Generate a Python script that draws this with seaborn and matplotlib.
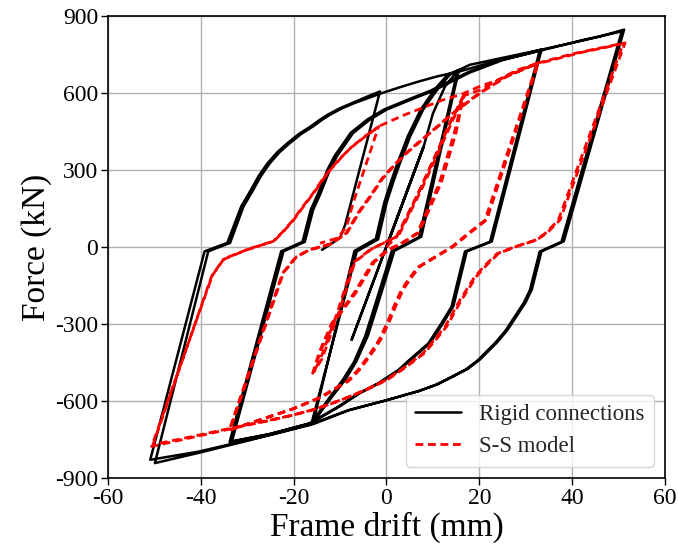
import numpy as np
import pandas as pd
import matplotlib
matplotlib.use("Agg")
import matplotlib.pyplot as plt
import seaborn as sns

# ---------------- Rigid connections: load path, branch by branch ----------------
RC_ELASTIC_D = [0.0, 8.0, -7.5, 8.0, -7.5]
RC_ELASTIC_F = [0, 391, -361, 391, -361]
RC_LOAD16_D = [8.0, 10.0, 12.6, 15.3]
RC_LOAD16_F = [391, 520, 625, 686]
RC_DN16A_D = [7.0, 1.1, -1.9, -4.6, -7.0, -9.4, -12.0, -14.4, -16.2]
RC_DN16A_F = [38, -17, -193, -348, -448, -517, -580, -640, -690]
RC_UP16A_D = [-6.4, -1.8, 0.0, 1.5, 2.9, 5.1, 7.9, 10.0, 11.5, 13.7, 15.6]
RC_UP16A_F = [-17, 30, 171, 255, 327, 431, 535, 590, 626, 672, 690]
RC_DN16B_D = [7.5, 1.7, -1.3, -4.0, -6.5, -8.8, -11.5, -14.0, -15.8]
RC_DN16B_F = [40, -15, -190, -345, -446, -515, -578, -638, -686]
RC_UP16B_D = [-6.9, -2.3, -0.5, 1.0, 2.4, 4.6, 7.4, 9.5, 11.0, 13.3, 15.4]
RC_UP16B_F = [-15, 32, 172, 256, 328, 432, 536, 591, 627, 673, 688]
RC_ENV34_D = [18.0, 25.8, 33.4]
RC_ENV34_F = [710, 740, 769]
RC_DN34A_D = [22.7, 17.3, 14.4, 12.2, 9.4, 5.5, 2.9, -1.5, -5.7, -10.0, -16.3, -25.0, -33.3]
RC_DN34A_F = [22, -17, -231, -296, -374, -435, -478, -530, -569, -620, -686, -728, -757]
RC_UP34A_D = [-22.2, -17.6, -15.8, -14.3, -12.2, -10.7, -7.2, -3.6, 0.0, 5.8, 10.0, 13.0, 18.0, 25.0, 33.0]
RC_UP34A_F = [-17, 20, 145, 205, 301, 353, 444, 496, 535, 578, 608, 635, 680, 728, 765]
RC_DN34B_D = [22.3, 16.9, 14.0, 11.8, 9.0, 5.1, 2.5, -1.9, -6.1, -10.4, -16.7, -25.4, -33.8]
RC_DN34B_F = [20, -18, -233, -298, -376, -437, -480, -532, -571, -622, -688, -730, -760]
RC_UP34B_D = [-22.7, -18.1, -16.3, -14.8, -12.7, -11.2, -7.7, -4.1, -0.5, 5.3, 9.5, 12.5, 17.6, 24.8, 33.4]
RC_UP34B_F = [-17, 20, 146, 206, 302, 354, 445, 497, 536, 579, 609, 636, 681, 729, 769]
RC_ENV51_D = [40.0, 46.0, 51.2]
RC_ENV51_F = [795, 820, 847]
RC_DN51A_D = [38.2, 33.4, 31.3, 30.0, 28.0, 26.0, 23.7, 20.1, 17.5, 14.4, 11.0, 7.2, 0.0,
              -8.0, -15.8, -24.0, -31.8, -40.0, -49.9]
RC_DN51A_F = [22, -17, -166, -215, -270, -325, -374, -439, -475, -504, -535, -560, -597,
              -635, -690, -728, -763, -800, -842]
RC_UP51A_D = [-38.4, -33.7, -30.8, -28.7, -27.0, -25.1, -23.0, -20.8, -18.4, -15.8, -14.0, -12.2,
              -9.6, -7.0, -4.0, -1.1, 3.0, 7.0, 11.0, 15.6, 20.0, 25.0, 33.4, 42.0, 50.7]
RC_UP51A_F = [-17, 16, 158, 223, 278, 327, 370, 405, 440, 470, 494, 515,
              540, 560, 580, 599, 623, 645, 665, 683, 706, 730, 766, 805, 840]
RC_DN51B_D = [37.7, 33.0, 30.9, 29.6, 27.6, 25.6, 23.3, 19.7, 17.1, 14.0, 10.6, 6.8, -0.4,
              -8.4, -16.2, -24.4, -32.2, -40.4, -50.9]
RC_DN51B_F = [20, -18, -168, -217, -272, -327, -376, -441, -477, -506, -537, -562, -599,
              -637, -690, -728, -762, -797, -829]
RC_UP51B_D = [-39.2, -34.3, -31.3, -29.2, -27.5, -25.6, -23.5, -21.3, -18.9, -16.3, -14.5,
              -12.7, -10.1, -7.5, -4.4, -1.4]
RC_UP51B_F = [-17, 16, 158, 223, 278, 327, 370, 405, 440, 470, 494,
              515, 540, 560, 584, 606]
RC_END_D = [-8.9, -10.0, -13.9]
RC_END_F = [87, 35, -11]

# ---------------- S-S model: load path, branch by branch ----------------
SS_UP16A_D = [0.0, 2.2, 4.5, 7.2, 10.8, 13.7, 16.5]
SS_UP16A_F = [0, 41, 120, 223, 366, 484, 585]
SS_DN16A_D = [14.6, 11.4, 8.2, 6.6, 3.0, 0.2, -3.0, -7.0, -11.8, -14.5, -15.9]
SS_DN16A_F = [444, 249, 119, 54, 12, -11, -60, -180, -297, -410, -492]
SS_UP16B_D = [-14.3, -10.5, -7.2, -3.6, 2.2, 7.2, 10.8, 13.7, 16.6]
SS_UP16B_F = [-440, -250, -62, -11, 41, 223, 366, 484, 588]
SS_DN16B_D = [15.0, 11.8, 8.6, 6.9, 3.3, 0.5, -2.6, -6.6, -11.4, -14.2, -15.6]
SS_DN16B_F = [446, 251, 121, 55, 13, -10, -58, -178, -295, -405, -485]
SS_UP16C_D = [-13.9, -10.1, -6.8, -3.2, 2.6, 7.6, 11.2, 14.1, 16.8]
SS_UP16C_F = [-436, -246, -58, -8, 44, 226, 369, 487, 590]
SS_ENV33_D = [20.2, 24.2, 28.0, 32.7]
SS_ENV33_F = [612, 652, 688, 717]
SS_DN33A_D = [21.6, 18.0, 14.4, 11.0, 7.2, 5.3, 3.6, 2.1, 0.8, -1.2, -3.6, -5.8, -8.0,
              -14.0, -20.0, -27.0, -33.7]
SS_DN33A_F = [106, 55, 2, -35, -76, -120, -166, -225, -283, -360, -426, -478, -520,
              -585, -630, -672, -712]
SS_UP33A_D = [-22.2, -19.3, -16.5, -12.0, -8.5, -5.7, -3.3, -0.9, 1.8, 4.6, 9.8, 15.0, 20.2, 26.0, 32.5]
SS_UP33A_F = [-100, -37, -11, 12, 55, 140, 200, 265, 320, 370, 450, 530, 600, 665, 715]
SS_DN33B_D = [21.2, 17.6, 14.0, 10.6, 6.8, 4.9, 3.2, 1.7, 0.4, -1.6, -4.0, -6.2, -8.4,
              -14.4, -20.4, -27.4, -33.9]
SS_DN33B_F = [104, 53, 0, -37, -78, -122, -168, -227, -285, -362, -428, -480, -522,
              -587, -632, -674, -714]
SS_UP33B_D = [-22.4, -19.5, -16.7, -12.2, -8.7, -5.9, -3.5, -1.1, 1.6, 4.4, 9.6, 14.8, 20.0, 25.8, 32.7]
SS_UP33B_F = [-102, -39, -12, 11, 54, 139, 199, 264, 319, 369, 449, 529, 599, 664, 717]
SS_ENV51_D = [40.0, 46.0, 51.4]
SS_ENV51_F = [752, 775, 795]
SS_DN51A_D = [37.4, 34.6, 32.4, 28.0, 24.2, 21.6, 19.4, 17.8, 16.2, 14.6, 13.0, 10.6, 8.2, 4.2,
              0.2, -3.8, -7.8, -11.8, -15.8, -20.0, -24.0, -28.0, -31.8, -41.0, -50.3]
SS_DN51A_F = [106, 55, 28, 2, -24, -70, -114, -160, -205, -257, -309, -362, -413, -468,
              -517, -552, -582, -610, -634, -654, -670, -685, -699, -735, -770]
SS_UP51A_D = [-37.7, -35.2, -30.1, -24.4, -22.2, -20.1, -18.0, -15.8, -14.0, -12.2, -10.0,
              -7.8, -4.6, -1.4, 3.5, 8.2, 12.0, 16.2, 20.0, 24.2, 28.0, 32.2, 42.0, 51.0]
SS_UP51A_F = [-115, -49, -11, 22, 62, 106, 158, 210, 258, 300, 345,
              385, 430, 472, 512, 545, 572, 595, 625, 652, 685, 712, 758, 792]
SS_DN51B_D = [37.0, 34.2, 32.0, 27.6, 23.8, 21.2, 19.0, 17.4, 15.8, 14.2, 12.6, 10.2, 7.8, 3.8,
              -0.2, -4.2, -8.2, -12.2, -16.2, -20.4, -24.4, -28.4, -32.2, -41.4, -50.6]
SS_DN51B_F = [104, 53, 26, 0, -26, -72, -116, -162, -207, -259, -311, -364, -415, -470,
              -519, -554, -584, -612, -636, -656, -673, -688, -703, -740, -777]
SS_UP51B_D = [-37.5, -35.0, -29.9, -24.2, -22.0, -19.9, -17.8, -15.6, -13.8, -12.0, -9.8,
              -7.6, -4.6, -1.7]
SS_UP51B_F = [-110, -46, -9, 24, 64, 108, 160, 212, 260, 303, 347,
              388, 432, 469]
SS_END_D = [-7.2, -8.6, -10.5, -14.3]
SS_END_F = [171, 80, 35, 15]

X_TICKS = [-60, -40, -20, 0, 20, 40, 60]
Y_TICKS = [-900, -600, -300, 0, 300, 600, 900]


def history(*branches):
    """Join (drift, force) branches into one ordered load path."""
    d = np.concatenate([np.asarray(b[0], float) for b in branches])
    f = np.concatenate([np.asarray(b[1], float) for b in branches])
    return pd.DataFrame({"drift": d, "force": f})


rigid = history(
    (RC_ELASTIC_D, RC_ELASTIC_F), (RC_LOAD16_D, RC_LOAD16_F),
    (RC_DN16A_D, RC_DN16A_F), (RC_UP16A_D, RC_UP16A_F),
    (RC_DN16B_D, RC_DN16B_F), (RC_UP16B_D, RC_UP16B_F),
    (RC_ENV34_D, RC_ENV34_F),
    (RC_DN34A_D, RC_DN34A_F), (RC_UP34A_D, RC_UP34A_F),
    (RC_DN34B_D, RC_DN34B_F), (RC_UP34B_D, RC_UP34B_F),
    (RC_ENV51_D, RC_ENV51_F),
    (RC_DN51A_D, RC_DN51A_F), (RC_UP51A_D, RC_UP51A_F),
    (RC_DN51B_D, RC_DN51B_F), (RC_UP51B_D, RC_UP51B_F),
    (RC_END_D, RC_END_F),
)

ss = history(
    (SS_UP16A_D, SS_UP16A_F), (SS_DN16A_D, SS_DN16A_F),
    (SS_UP16B_D, SS_UP16B_F), (SS_DN16B_D, SS_DN16B_F),
    (SS_UP16C_D, SS_UP16C_F),
    (SS_ENV33_D, SS_ENV33_F),
    (SS_DN33A_D, SS_DN33A_F), (SS_UP33A_D, SS_UP33A_F),
    (SS_DN33B_D, SS_DN33B_F), (SS_UP33B_D, SS_UP33B_F),
    (SS_ENV51_D, SS_ENV51_F),
    (SS_DN51A_D, SS_DN51A_F), (SS_UP51A_D, SS_UP51A_F),
    (SS_DN51B_D, SS_DN51B_F), (SS_UP51B_D, SS_UP51B_F),
    (SS_END_D, SS_END_F),
)

sns.set_theme(style="whitegrid")
plt.rcParams["font.family"] = ["Liberation Serif", "DejaVu Serif"]

fig = plt.figure(figsize=(6.78, 5.49), dpi=100)
ax = fig.add_axes([0.1593, 0.1293, 0.8215, 0.8416])

sns.lineplot(data=rigid, x="drift", y="force", sort=False, estimator=None,
             color="black", lw=1.8, label="Rigid connections", ax=ax)
sns.lineplot(data=ss, x="drift", y="force", sort=False, estimator=None,
             color="red", lw=2.0, dashes=False, label="S-S model", ax=ax)
# dashed style for the S-S model trace (and its legend handle)
ax.lines[1].set_dashes((2.8, 1.7))

ax.set_xlim(-60, 60)
ax.set_ylim(-900, 900)
ax.set_xticks(X_TICKS)
ax.set_yticks(Y_TICKS)
ax.set_xticklabels([str(v) for v in X_TICKS])
ax.set_yticklabels([str(v) for v in Y_TICKS])
ax.tick_params(axis="both", labelsize=17, colors="black", direction="out",
               length=5, width=1, left=True, bottom=True, pad=2)
ax.grid(True, color="#b0b0b0", linewidth=1.0)
ax.set_facecolor("white")
for s in ax.spines.values():
    s.set_color("black")
    s.set_linewidth(1.2)

ax.set_xlabel("Frame drift (mm)", fontsize=24, color="black", labelpad=2)
ax.set_ylabel("Force (kN)", fontsize=24, color="black", labelpad=2)

handles, labels = ax.get_legend_handles_labels()
handles[1].set_dashes((2.8, 1.7))
leg = ax.legend(handles, labels, loc="lower right", fontsize=16.5, frameon=True,
                fancybox=True, framealpha=0.8, edgecolor="#cccccc")
leg.get_frame().set_linewidth(1.0)

fig.savefig("out.png", dpi=100, facecolor="white")
